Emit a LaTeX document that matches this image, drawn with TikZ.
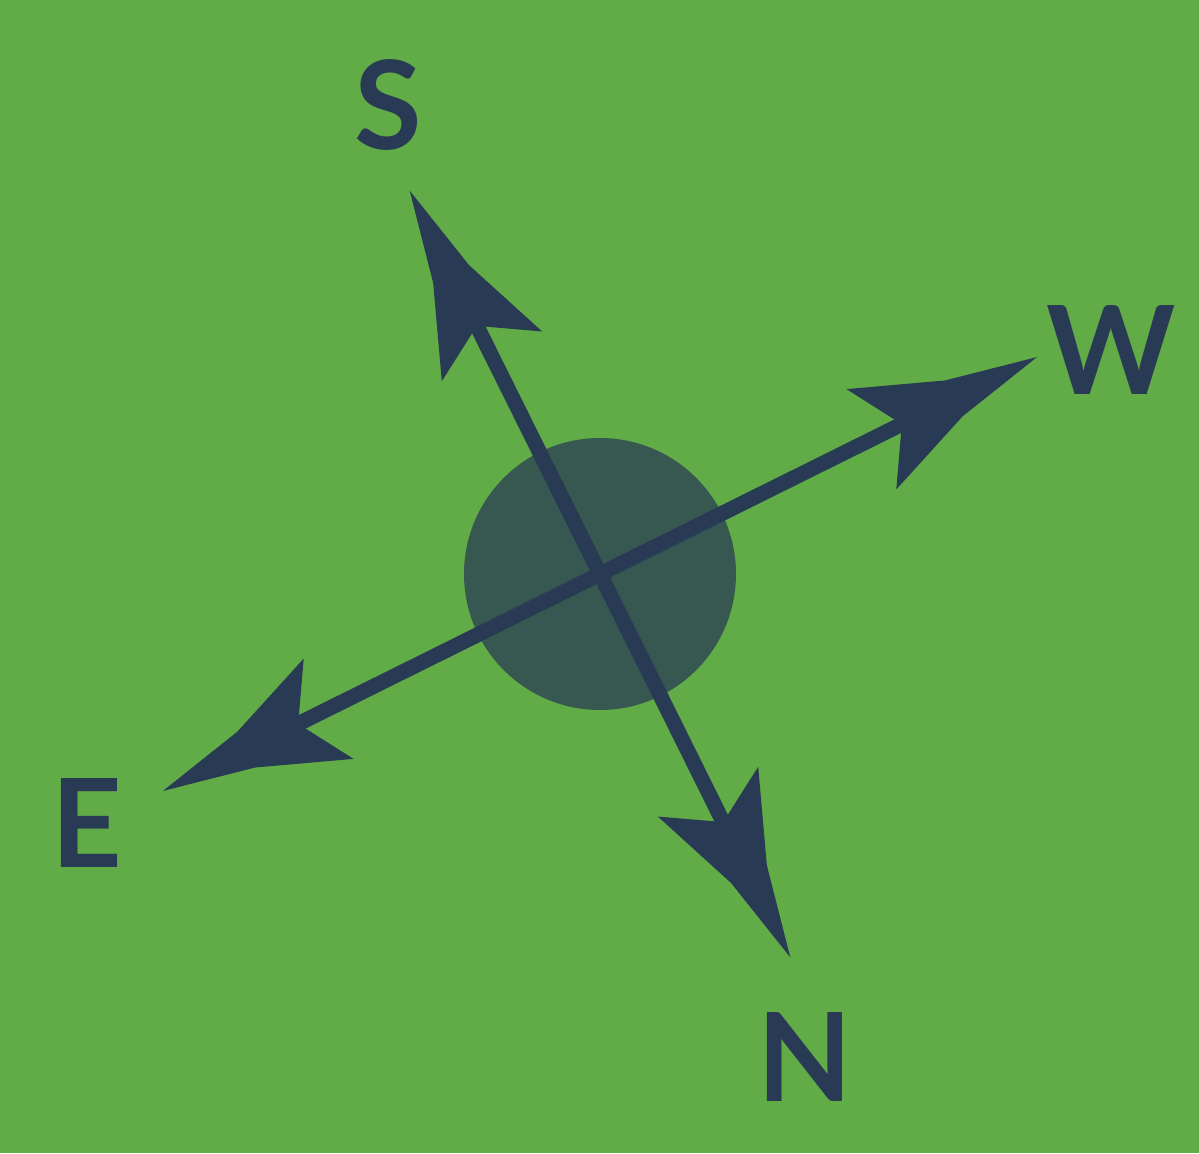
\documentclass[tikz,border=0pt]{standalone}
\usepackage{fontspec}
\setmainfont{Lato}
\usetikzlibrary{calc}
\definecolor{fond}{HTML}{62AC48}
\definecolor{encre}{HTML}{293B54}
\definecolor{disque}{HTML}{375850}
\begin{document}
\begin{tikzpicture}[x=0.01cm,y=0.01cm]
	% Styles (MODIFIABLES)
	\tikzstyle{fleche}=[-,encre,line width=4.3pt,shorten <=1.4cm,shorten >=1.4cm]
	\tikzstyle{lettre}=[encre,inner sep=0pt,font=\fontsize{35}{40}\selectfont\bfseries]
	\tikzset{pointe/.pic={\fill[encre] (0,0) -- (-93,20) -- (-185,56) -- (-151,0) -- (-185,-56) -- (-93,-20) -- cycle;}}
	% Dimensions (MODIFIABLES)
	\def\AngleAxe{26.4}
	\def\DemiAxeNS{428}
	\def\DemiAxeEW{488}
	\def\RayonDisque{136}
	% Fond
	\fill[fond] (0,0) rectangle (1199,1153);
	\useasboundingbox (0,0) rectangle (1199,1153);
	% Points
	\coordinate (O) at (600,579);
	\coordinate (S) at ($(O)+({\AngleAxe+90}:\DemiAxeNS)$);
	\coordinate (N) at ($(O)+({\AngleAxe-90}:\DemiAxeNS)$);
	\coordinate (W) at ($(O)+({\AngleAxe}:\DemiAxeEW)$);
	\coordinate (E) at ($(O)+({\AngleAxe+180}:\DemiAxeEW)$);
	% Disque central
	\fill[disque] (O) circle (\RayonDisque);
	% Axes
	\draw[fleche] (N) -- (S);
	\draw[fleche] (E) -- (W);
	% Pointes
	\pic[rotate={\AngleAxe+90}] at (S) {pointe};
	\pic[rotate={\AngleAxe-90}] at (N) {pointe};
	\pic[rotate={\AngleAxe}] at (W) {pointe};
	\pic[rotate={\AngleAxe+180}] at (E) {pointe};
	% Lettres
	\node[lettre] (lS) at (388,1048) {S};
	\node[lettre] (lN) at (805,96) {N};
	\node[lettre] (lW) at (1111,803) {W};
	\node[lettre] (lE) at (87,330) {E};
\end{tikzpicture}
\end{document}
